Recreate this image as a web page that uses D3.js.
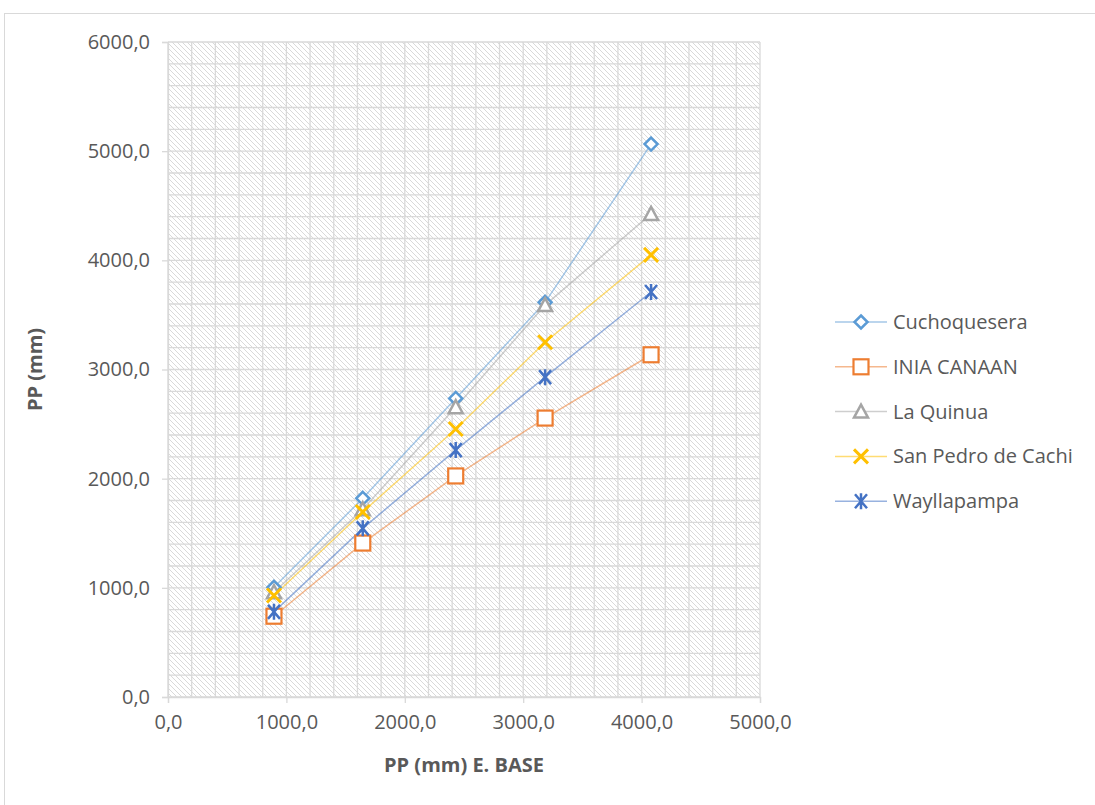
<!DOCTYPE html>
<html>
<head>
<meta charset="utf-8">
<script src="https://cdn.jsdelivr.net/npm/d3@7"></script>
<style>
  body { margin: 0; background: #fff; }
  text { font-family: 'Open Sans', 'Noto Sans', sans-serif; }
</style>
</head>
<body>
<div id="chart"></div>
<script>
// data
const xBase = [895, 1645, 2430, 3185, 4080];
const seriesNames = ['Cuchoquesera', 'INIA CANAAN', 'La Quinua', 'San Pedro de Cachi', 'Wayllapampa'];
const cuchoquesera = [1005, 1820, 2735, 3615, 5065];
const iniaCanaan = [740, 1410, 2025, 2555, 3135];
const laQuinua = [960, 1720, 2655, 3590, 4425];
const sanPedro = [930, 1695, 2455, 3250, 4050];
const wayllapampa = [780, 1545, 2262, 2930, 3710];
const xTicks = [0, 1000, 2000, 3000, 4000, 5000];
const yTicks = [0, 1000, 2000, 3000, 4000, 5000, 6000];

const colors = ['#5B9BD5', '#ED7D31', '#A5A5A5', '#FFC000', '#4472C4'];
const symbols = ['diamond', 'square', 'triangle', 'x', 'star'];
const allValues = [cuchoquesera, iniaCanaan, laQuinua, sanPedro, wayllapampa];
const series = seriesNames.map((name, i) => ({
  name, color: colors[i], sym: symbols[i],
  pts: xBase.map((x, j) => ({ x, y: allValues[i][j] }))
}));

const W = 1095, H = 805;
const pLeft = 168, pRight = 760, pTop = 42, pBottom = 697;
const fmt = d => d.toFixed(1).replace('.', ',');
const textColor = '#595959';

const svg = d3.select('#chart').append('svg').attr('width', W).attr('height', H);

// chart frame
svg.append('rect').attr('x', 4.5).attr('y', 13.5).attr('width', W + 10).attr('height', H + 10)
  .attr('fill', 'none').attr('stroke', '#d9d9d9');

const defs = svg.append('defs');
const pat = defs.append('pattern').attr('id', 'hatch').attr('patternUnits', 'userSpaceOnUse')
  .attr('width', 5).attr('height', 5);
pat.append('rect').attr('width', 5).attr('height', 5).attr('fill', '#fff');
pat.append('path').attr('d', 'M-1,-1 L6,6 M-1,4 L1,6 M4,-1 L6,1')
  .attr('stroke', '#d9d9d9').attr('stroke-width', 1);

const x = d3.scaleLinear().domain([0, 5000]).range([pLeft, pRight]);
const y = d3.scaleLinear().domain([0, 6000]).range([pBottom, pTop]);

svg.append('rect').attr('x', pLeft).attr('y', pTop).attr('width', pRight - pLeft).attr('height', pBottom - pTop)
  .attr('fill', 'url(#hatch)');

// gridlines every 200
const grid = svg.append('g').attr('stroke', '#d9d9d9').attr('stroke-width', 1.3);
d3.range(0, 5001, 200).forEach(v => {
  grid.append('line').attr('x1', x(v)).attr('x2', x(v)).attr('y1', pTop).attr('y2', pBottom);
});
d3.range(0, 6001, 200).forEach(v => {
  grid.append('line').attr('x1', pLeft).attr('x2', pRight).attr('y1', y(v)).attr('y2', y(v));
});

// axes
svg.append('g').attr('transform', `translate(0,${pBottom})`)
  .call(d3.axisBottom(x).tickValues(xTicks).tickFormat(fmt).tickSize(6).tickPadding(12))
  .call(g => g.select('.domain').attr('stroke', '#d9d9d9').attr('stroke-width', 1.3))
  .call(g => g.selectAll('.tick line').attr('stroke', '#d9d9d9').attr('stroke-width', 1.3))
  .call(g => g.selectAll('.tick text').attr('fill', textColor).attr('font-size', '20px')
    .attr('font-family', "'Open Sans', sans-serif"));

svg.append('g').attr('transform', `translate(${pLeft},0)`)
  .call(d3.axisLeft(y).tickValues(yTicks).tickFormat(fmt).tickSize(6).tickPadding(12))
  .call(g => g.select('.domain').attr('stroke', '#d9d9d9').attr('stroke-width', 1.3))
  .call(g => g.selectAll('.tick line').attr('stroke', '#d9d9d9').attr('stroke-width', 1.3))
  .call(g => g.selectAll('.tick text').attr('fill', textColor).attr('font-size', '20px')
    .attr('font-family', "'Open Sans', sans-serif"));

// axis titles
svg.append('text').attr('x', x(2500)).attr('y', 772).attr('text-anchor', 'middle')
  .attr('fill', textColor).attr('font-size', '20px').attr('font-weight', 'bold')
  .text('PP (mm) E. BASE');
svg.append('text').attr('transform', `translate(42,${y(3000)}) rotate(-90)`).attr('text-anchor', 'middle')
  .attr('fill', textColor).attr('font-size', '20px').attr('font-weight', 'bold')
  .text('PP (mm)');

function drawMarker(g, sym, color, cx, cy) {
  const s = g.append('g').attr('transform', `translate(${cx},${cy})`);
  if (sym === 'diamond') {
    s.append('path').attr('d', 'M0,-6.5 L6.5,0 L0,6.5 L-6.5,0 Z')
      .attr('fill', '#fff').attr('stroke', color).attr('stroke-width', 2.5);
  } else if (sym === 'square') {
    s.append('rect').attr('x', -7.5).attr('y', -7.5).attr('width', 15).attr('height', 15)
      .attr('fill', '#fff').attr('stroke', color).attr('stroke-width', 2.2);
  } else if (sym === 'triangle') {
    s.append('path').attr('d', 'M0,-7 L7,6 L-7,6 Z')
      .attr('fill', '#fff').attr('stroke', color).attr('stroke-width', 2.5);
  } else if (sym === 'x') {
    s.append('path').attr('d', 'M-7,-7 L7,7 M-7,7 L7,-7')
      .attr('stroke', color).attr('stroke-width', 3);
  } else if (sym === 'star') {
    s.append('path').attr('d', 'M-6,-7 L6,7 M-6,7 L6,-7 M0,-8 L0,8')
      .attr('stroke', color).attr('stroke-width', 2.5);
  }
}

const line = d3.line().x(d => x(d.x)).y(d => y(d.y));
series.forEach(s => {
  svg.append('path').datum(s.pts).attr('d', line).attr('fill', 'none')
    .attr('stroke', s.color).attr('stroke-opacity', 0.55).attr('stroke-width', 1.5);
});
series.forEach(s => {
  const g = svg.append('g');
  s.pts.forEach(p => drawMarker(g, s.sym, s.color, x(p.x), y(p.y)));
});

// legend
const leg = svg.append('g');
series.forEach((s, i) => {
  const ly = 322 + i * 44.8;
  leg.append('line').attr('x1', 835).attr('x2', 887).attr('y1', ly).attr('y2', ly)
    .attr('stroke', s.color).attr('stroke-opacity', 0.55).attr('stroke-width', 1.5);
  drawMarker(leg, s.sym, s.color, 861, ly);
  leg.append('text').attr('x', 893).attr('y', ly).attr('dy', '0.35em')
    .attr('fill', textColor).attr('font-size', '20px').text(s.name);
});
</script>
</body>
</html>
